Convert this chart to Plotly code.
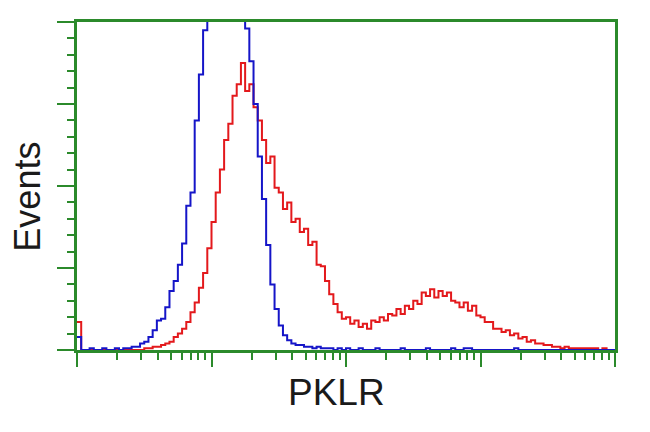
import plotly.graph_objects as go

# Histogram channels: 128 bins across 4 log decades (10^0 .. 10^4)
n_bins = 128
decades = 4
bin_edges = [10 ** (i * decades / n_bins) for i in range(n_bins + 1)]

# Event counts per bin
blue_counts = [
    8, 0, 0, 1, 0, 0, 1, 0, 0, 1,
    0, 1, 1, 2, 2, 4, 5, 8, 12, 18,
    19, 26, 36, 42, 52, 65, 88, 96, 140, 168,
    195, 215, 240, 265, 280, 290, 285, 275, 260, 235,
    196, 176, 150, 118, 92, 64, 40, 25, 15, 9,
    6, 4, 3, 3, 2, 2, 1, 2, 1, 1,
    1, 0, 1, 0, 1, 0, 0, 1, 0, 0,
    0, 1, 0, 0, 0, 0, 0, 1, 0, 0,
    0, 0, 0, 1, 0, 0, 0, 0, 0, 1,
    0, 0, 1, 1, 0, 0, 0, 0, 0, 0,
    0, 0, 0, 0, 1, 0, 0, 0, 0, 0,
    0, 0, 0, 0, 0, 0, 0, 0, 0, 0,
    0, 0, 0, 0, 0, 0, 0, 0,
]
red_counts = [
    17, 0, 0, 0, 0, 0, 0, 0, 0, 0,
    0, 0, 0, 0, 0, 0, 1, 1, 2, 2,
    3, 4, 5, 8, 10, 13, 17, 23, 29, 38,
    47, 62, 78, 96, 110, 128, 138, 155, 162, 175,
    158, 162, 148, 140, 128, 114, 118, 99, 96, 86,
    90, 78, 80, 72, 74, 64, 66, 52, 51, 42,
    34, 28, 23, 19, 20, 16, 18, 14, 16, 13,
    18, 17, 20, 18, 22, 21, 25, 22, 27, 25,
    30, 28, 35, 33, 37, 32, 36, 33, 35, 30,
    29, 26, 29, 24, 27, 21, 20, 17, 17, 13,
    13, 11, 12, 9, 10, 7, 8, 5, 6, 4,
    4, 3, 3, 2, 2, 1, 2, 1, 1, 1,
    1, 1, 1, 1, 0, 1, 0, 0,
]

x_label = "PKLR"
y_label = "Events"
y_max = 200

GREEN = "#2b8a2b"

minor_x = [m * 10 ** d for d in range(decades) for m in range(2, 10)]

fig = go.Figure()
fig.add_trace(go.Scatter(
    x=bin_edges, y=red_counts + [red_counts[-1]],
    mode="lines", line=dict(color="#e3191c", width=2, shape="hv"),
    showlegend=False, hoverinfo="skip"))
fig.add_trace(go.Scatter(
    x=bin_edges, y=blue_counts + [blue_counts[-1]],
    mode="lines", line=dict(color="#1515c8", width=2, shape="hv"),
    showlegend=False, hoverinfo="skip"))

fig.update_layout(
    width=650, height=432,
    margin=dict(l=69, r=43, t=14, b=90),
    paper_bgcolor="white", plot_bgcolor="white",
    font=dict(family="Liberation Sans, Arial, sans-serif", color="#1a1a1a"),
    xaxis=dict(
        type="log", range=[0, decades], dtick=1,
        showgrid=False, zeroline=False, showticklabels=False,
        showline=True, linecolor=GREEN, linewidth=2.5, mirror=True,
        ticks="outside", ticklen=14, tickwidth=2, tickcolor=GREEN,
        minor=dict(tickmode="array", tickvals=minor_x, ticks="outside",
                   ticklen=7, tickwidth=2, tickcolor=GREEN, showgrid=False),
    ),
    yaxis=dict(
        range=[0, y_max], dtick=50,
        showgrid=False, zeroline=False, showticklabels=False,
        showline=True, linecolor=GREEN, linewidth=2.5, mirror=True,
        ticks="outside", ticklen=17, tickwidth=2, tickcolor=GREEN,
        minor=dict(dtick=10, ticks="outside", ticklen=7, tickwidth=2,
                   tickcolor=GREEN, showgrid=False),
    ),
    annotations=[
        dict(text=y_label, xref="paper", yref="paper", x=-0.092, y=0.466,
             xanchor="center", yanchor="middle", textangle=-90,
             showarrow=False, font=dict(size=36)),
        dict(text=x_label, xref="paper", yref="paper", x=0.483, y=-0.131,
             xanchor="center", yanchor="middle",
             showarrow=False, font=dict(size=37)),
    ],
)

fig.write_html("out.html")
